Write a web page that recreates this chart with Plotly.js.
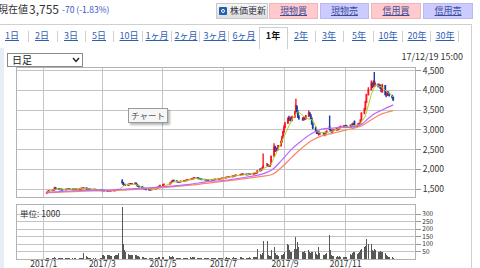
<!DOCTYPE html>
<html><head><meta charset="utf-8">
<script src="https://cdn.plot.ly/plotly-3.0.1.min.js"></script>
<style>
html,body{margin:0;padding:0;background:#fff;}
body{width:480px;height:268px;overflow:hidden;position:relative;font-family:"Noto Sans CJK JP","Noto Sans",sans-serif;color:#333;}
#chart{position:absolute;left:0;top:0;width:480px;height:268px;}
.abs{position:absolute;white-space:nowrap;}
.btn{position:absolute;top:3px;height:14px;border:1px solid #c9c9c9;font-size:9px;line-height:14px;text-align:center;color:#3a4c9a;}
.btn span{text-decoration:underline;}
.pink{background:#ffc9cd;border-color:#eab7bb;}
.lav{background:#cbcbff;border-color:#b9b9ee;}
.tab{position:absolute;top:30px;font-size:9px;line-height:12px;color:#2f5fb3;text-decoration:underline;transform:translateX(-50%);}
.sep{position:absolute;top:31px;width:1px;height:11px;background:#cfcfcf;}
</style></head><body>
<div class="abs" style="left:-1px;top:24px;width:471px;height:260px;border:1px solid #d0d0d0;"></div>
<div class="abs" style="left:0;top:48px;width:4px;height:220px;background:#e7edf5;"></div>
<div id="chart"></div>

<div class="abs" style="left:-2px;top:2px;font-size:10px;line-height:14px;color:#333;">現在値</div>
<div class="abs" style="left:29px;top:1px;font-size:12px;line-height:15px;color:#333;">3,755</div>
<div class="abs" style="left:62px;top:3px;font-size:8.5px;line-height:12px;color:#3556c4;">-70 (-1.83%)</div>

<div class="btn" style="left:216px;width:50px;background:linear-gradient(#f6f6f6,#dedede);color:#334;text-align:left;">
  <div style="position:absolute;left:2px;top:3px;width:8px;height:8px;background:#1f5fb0;border-radius:1px;"></div>
  <div style="position:absolute;left:4px;top:5px;width:2px;height:2px;border:1px solid #fff;border-radius:50%;"></div>
  <span style="position:absolute;left:13px;text-decoration:none;">株価更新</span>
</div>
<div class="btn pink" style="left:269px;width:47px;"><span>現物買</span></div>
<div class="btn lav" style="left:320px;width:47px;"><span>現物売</span></div>
<div class="btn pink" style="left:371px;width:48px;"><span>信用買</span></div>
<div class="btn lav" style="left:423px;width:48px;"><span>信用売</span></div>

<div class="abs" style="left:259px;top:27px;width:27px;height:21px;border:1px solid #cfcfcf;border-bottom:none;background:#fff;"></div>
<div class="tab" style="left:12px;">1日</div>
<div class="sep" style="left:28px;"></div>
<div class="tab" style="left:42px;">2日</div>
<div class="sep" style="left:57px;"></div>
<div class="tab" style="left:71px;">3日</div>
<div class="sep" style="left:85px;"></div>
<div class="tab" style="left:99px;">5日</div>
<div class="sep" style="left:113px;"></div>
<div class="tab" style="left:129px;">10日</div>
<div class="sep" style="left:142px;"></div>
<div class="tab" style="left:157px;">1ヶ月</div>
<div class="sep" style="left:171px;"></div>
<div class="tab" style="left:186px;">2ヶ月</div>
<div class="sep" style="left:199px;"></div>
<div class="tab" style="left:215px;">3ヶ月</div>
<div class="sep" style="left:228px;"></div>
<div class="tab" style="left:244px;">6ヶ月</div>
<div class="tab" style="left:273px;color:#111;text-decoration:none;font-weight:bold;">1年</div>
<div class="tab" style="left:301px;">2年</div>
<div class="sep" style="left:315px;"></div>
<div class="tab" style="left:329px;">3年</div>
<div class="sep" style="left:343px;"></div>
<div class="tab" style="left:359px;">5年</div>
<div class="sep" style="left:373px;"></div>
<div class="tab" style="left:388px;">10年</div>
<div class="sep" style="left:402px;"></div>
<div class="tab" style="left:417px;">20年</div>
<div class="sep" style="left:430px;"></div>
<div class="tab" style="left:445px;">30年</div>
<div class="sep" style="left:458px;"></div>

<div class="abs" style="left:7px;top:53px;width:74px;height:12px;border:1px solid #8a8a8a;background:#fff;">
  <div class="abs" style="left:4px;top:-1px;font-size:10px;line-height:13px;color:#222;">日足</div>
  <svg class="abs" style="left:64px;top:3px;" width="8" height="6"><polyline points="1,1 4,4.5 7,1" fill="none" stroke="#222" stroke-width="1.4"/></svg>
</div>
<div class="abs" style="right:17px;top:51px;font-size:9px;line-height:12px;color:#333;">17/12/19 15:00</div>

<div class="abs" style="left:128px;top:108px;width:38px;height:13px;border:1px solid #9a9a9a;background:#f6f6f6;box-shadow:2px 2px 2px rgba(0,0,0,0.28);font-size:8.5px;line-height:13px;text-align:center;color:#555;">チャート</div>

<script>
// ---- data ----
const holidays = ['2017-01-09','2017-03-20','2017-05-03','2017-05-04','2017-05-05','2017-07-17','2017-08-11','2017-09-18','2017-10-09','2017-11-03','2017-11-23'];
const firstDay = '2017-01-04', lastDay = '2017-12-19';

const open = [
1400,1415,1440,1462,1470,1492,1532,1508,1495,1490,1500,1485,1480,1490,1500,1495,1505,1500,1495,
1490,1495,1500,1505,1500,1510,1520,1525,1530,1510,1500,1490,1495,1490,1485,1490,1480,1475,1480,1475,
1470,1465,1462,1458,1452,1456,1460,1455,1458,1464,1470,1476,1482,1700,1660,1620,1595,1615,1605,1622,1636,1625,
1640,1650,1620,1590,1570,1560,1540,1525,1510,1500,1490,1485,1480,1488,1495,1505,1520,1535,1550,1570,
1590,1610,1630,1650,1670,1700,1720,1705,1690,1685,1680,1690,1700,1705,1715,1720,1730,1740,1750,1760,
1770,1780,1790,1775,1765,1760,1750,1745,1740,1735,1730,1735,1730,1735,1740,1738,1745,1750,1755,1760,1765,1770,
1780,1790,1800,1805,1810,1815,1825,1835,1840,1850,1855,1865,1875,1880,1878,1872,1868,1875,1882,1880,
1890,1895,1905,1915,2000,1970,1995,2040,2090,2110,2080,2085,2140,2340,2560,2480,2520,2500,2600,2700,2810,2950,
3060,3180,3300,3250,3300,3240,3330,3460,3600,3480,3330,3300,3260,3310,3280,3350,3430,3380,3300,3150,
3060,2980,2920,2950,2890,2930,2900,2880,2940,3080,3010,2980,2950,2990,3000,3030,3010,3050,3070,3080,3100,
3090,3110,3090,3120,3100,3150,3210,3090,3120,3160,3140,3260,3430,3530,3700,3890,4020,4180,4100,4230,
4130,4150,4100,4130,4070,3960,4120,3900,3880,3950,3920,3870,3825];
const high = [
1425,1450,1468,1478,1498,1560,1540,1512,1500,1508,1502,1490,1495,1508,1505,1512,1510,1502,1498,
1502,1506,1510,1508,1515,1528,1535,1555,1534,1514,1504,1500,1498,1494,1495,1492,1484,1486,1482,1478,
1474,1470,1466,1462,1460,1465,1466,1462,1468,1475,1480,1488,1500,1750,1680,1630,1625,1620,1630,1645,1640,1648,
1665,1655,1625,1598,1578,1565,1545,1530,1515,1505,1495,1490,1495,1502,1512,1528,1542,1558,1578,1598,
1618,1632,1660,1680,1710,1740,1728,1710,1695,1690,1698,1708,1712,1722,1728,1738,1748,1758,1768,1778,
1788,1800,1792,1780,1770,1765,1755,1750,1745,1740,1742,1740,1742,1748,1746,1752,1758,1762,1768,1772,1778,1790,
1798,1808,1812,1818,1822,1832,1842,1848,1858,1862,1872,1882,1888,1886,1880,1875,1882,1890,1888,1898,
1905,1912,1925,1975,2030,2010,2060,2400,2160,2120,2100,2115,2350,2660,2600,2540,2560,2620,2730,2850,2980,3120,
3200,3320,3360,3340,3320,3360,3480,3790,3620,3500,3380,3320,3340,3330,3380,3490,3450,3400,3310,3180,
3080,3000,2970,2960,2950,2950,2910,2960,2990,3365,3030,2990,3010,3020,3050,3050,3070,3090,3110,3120,3120,
3130,3120,3140,3140,3180,3170,3240,3140,3180,3180,3270,3450,3560,3740,3920,4080,4250,4200,4250,4470,
4200,4180,4170,4150,4100,4170,4130,3950,3990,3980,3940,3890,3850];
const low = [
1395,1410,1435,1455,1465,1488,1505,1490,1482,1486,1480,1472,1476,1486,1490,1492,1495,1488,1484,
1486,1490,1496,1494,1498,1505,1515,1520,1505,1495,1484,1486,1485,1480,1482,1476,1470,1472,1470,1464,
1460,1456,1450,1446,1448,1452,1450,1452,1456,1462,1468,1474,1480,1640,1610,1585,1590,1598,1600,1618,1618,1620,
1635,1612,1585,1562,1552,1535,1518,1505,1492,1482,1478,1470,1476,1485,1495,1500,1515,1530,1545,1565,
1585,1605,1625,1645,1665,1695,1700,1685,1678,1672,1675,1688,1695,1700,1710,1715,1725,1735,1745,1752,
1765,1775,1770,1760,1752,1745,1740,1735,1728,1725,1726,1724,1728,1732,1732,1736,1742,1746,1752,1756,1760,1765,
1775,1785,1795,1800,1805,1810,1820,1830,1835,1845,1850,1860,1870,1870,1865,1860,1862,1870,1872,1875,
1885,1890,1900,1910,1955,1960,1990,2030,2070,2060,2070,2080,2130,2320,2440,2450,2470,2490,2580,2680,2790,2930,
3040,3150,3230,3220,3220,3230,3310,3440,3450,3300,3260,3230,3240,3260,3270,3330,3360,3280,3130,3020,
2960,2900,2900,2860,2870,2880,2840,2870,2920,2990,2960,2930,2940,2975,2990,2990,3000,3040,3050,3070,3070,
3070,3070,3080,3080,3090,3110,3060,3080,3110,3120,3130,3240,3400,3500,3680,3870,4000,4060,4080,4100,
4100,4080,4080,4040,3960,3940,3880,3830,3860,3880,3850,3800,3740];
const close = [
1415,1440,1460,1470,1490,1535,1510,1495,1490,1500,1485,1480,1490,1500,1495,1505,1500,1495,1490,
1495,1500,1505,1500,1510,1520,1525,1530,1510,1500,1490,1495,1490,1485,1490,1480,1475,1480,1475,1470,
1465,1462,1458,1452,1456,1460,1455,1458,1464,1470,1476,1482,1492,1660,1620,1595,1615,1605,1622,1636,1625,1640,
1650,1620,1590,1570,1560,1540,1525,1510,1500,1490,1485,1480,1488,1495,1505,1520,1535,1550,1570,1590,
1610,1625,1650,1670,1700,1720,1705,1690,1685,1680,1690,1700,1705,1715,1720,1730,1740,1750,1760,1770,
1780,1790,1775,1765,1760,1750,1745,1740,1735,1730,1735,1730,1735,1740,1738,1745,1750,1755,1760,1765,1770,1780,
1790,1800,1805,1810,1815,1825,1835,1840,1850,1855,1865,1875,1880,1878,1872,1868,1875,1882,1880,1890,
1895,1905,1915,1960,1970,1995,2030,2090,2110,2080,2085,2100,2320,2560,2480,2520,2500,2600,2700,2810,2950,3060,
3150,3280,3250,3300,3240,3320,3450,3620,3480,3330,3300,3260,3310,3280,3350,3430,3380,3300,3150,3060,
2980,2920,2950,2890,2930,2900,2880,2940,2960,3010,2980,2950,2990,3000,3030,3010,3050,3070,3080,3100,3090,
3110,3090,3120,3100,3150,3130,3090,3120,3160,3140,3250,3420,3520,3700,3880,4020,4180,4100,4150,4130,
4150,4100,4130,4070,3980,4120,3900,3880,3950,3920,3870,3825,3755];
const volume = [
10,8,6,5,7,14,9,5,4,4,5,4,4,5,4,5,4,4,3,
4,4,3,4,5,7,10,37,18,14,6,5,4,4,3,4,3,3,4,5,
25,28,22,30,24,26,20,18,22,28,25,30,40,345,100,60,45,32,28,30,26,24,
30,25,20,18,15,14,12,10,10,9,8,8,7,8,9,10,9,10,12,14,
15,12,18,14,16,20,12,10,8,8,9,10,8,9,8,10,9,12,10,11,
12,14,10,9,8,8,7,7,6,6,7,6,6,7,6,7,8,7,8,7,8,10,
10,12,9,8,9,10,11,9,10,8,12,14,10,9,8,9,10,12,10,13,
14,12,15,70,35,30,40,117,123,30,20,18,60,83,40,28,25,22,30,25,28,35,
45,97,95,60,50,45,70,150,70,115,80,50,45,55,40,60,45,40,50,45,
45,35,30,77,40,30,25,35,40,163,60,30,20,18,15,20,15,18,15,14,12,
14,12,35,30,40,50,45,35,40,45,60,70,80,90,135,100,97,60,55,65,
60,50,45,55,50,50,40,25,20,15,12,14,10];

// moving-average lines, read at sparse dates
const maFastDates = ['2017-01-04','2017-01-13','2017-01-27','2017-02-10','2017-02-24','2017-03-10','2017-03-17','2017-03-24','2017-04-03','2017-04-12','2017-04-21','2017-05-02','2017-05-12','2017-05-22','2017-06-02','2017-06-14','2017-06-28','2017-07-12','2017-07-26','2017-08-04','2017-08-14','2017-08-18','2017-08-25','2017-09-01','2017-09-08','2017-09-14','2017-09-22','2017-09-29','2017-10-05','2017-10-13','2017-10-20','2017-10-27','2017-11-07','2017-11-15','2017-11-21','2017-11-27','2017-12-01','2017-12-07','2017-12-13','2017-12-19'];
const maFast = [1420,1500,1495,1515,1482,1458,1475,1610,1625,1530,1488,1570,1685,1695,1770,1738,1760,1835,1872,1930,2070,2130,2510,2900,3260,3470,3300,3250,2930,2930,2980,3060,3110,3130,3350,3900,4140,4090,3960,3840];
const maShortDates = ['2017-01-04','2017-02-06','2017-03-09','2017-03-28','2017-04-20','2017-05-28','2017-06-13','2017-07-03','2017-07-23','2017-08-09','2017-08-19','2017-08-29','2017-09-08','2017-09-18','2017-09-28','2017-10-08','2017-10-18','2017-10-28','2017-11-07','2017-11-17','2017-11-23','2017-11-29','2017-12-09','2017-12-19'];
const maShort = [1420,1465,1478,1505,1540,1620,1685,1725,1800,1880,1990,2240,2520,2730,2910,3020,3045,3070,3065,3140,3270,3390,3520,3635];
const maLongDates = ['2017-01-04','2017-02-06','2017-03-09','2017-04-28','2017-05-28','2017-06-13','2017-07-03','2017-07-23','2017-08-09','2017-08-19','2017-08-29','2017-09-08','2017-09-18','2017-09-28','2017-10-08','2017-10-18','2017-10-28','2017-11-07','2017-11-17','2017-11-27','2017-12-07','2017-12-19'];
const maLong = [1410,1445,1462,1530,1600,1645,1700,1765,1825,1870,2060,2310,2540,2730,2850,2905,2970,3030,3100,3260,3400,3490];

const gridDates = ['2017-01-01','2017-03-01','2017-05-01','2017-07-01','2017-09-01','2017-11-01'];
const gridLabels = ['2017/1','2017/3','2017/5','2017/7','2017/9','2017/11'];
const priceTicks = [1500,2000,2500,3000,3500,4000,4500];
const priceTickText = ['1,500','2,000','2,500','3,000','3,500','4,000','4,500'];
const volTicks = [50,100,150,200,250,300];
const volTickText = ['50','100','150','200','250','300'];

// trading calendar
function tradingDays(a, b, hol){
  const out = []; const d = new Date(a + 'T00:00:00Z'); const end = new Date(b + 'T00:00:00Z');
  while (d <= end){
    const s = d.toISOString().slice(0,10); const w = d.getUTCDay();
    if (w !== 0 && w !== 6 && hol.indexOf(s) < 0) out.push(s);
    d.setUTCDate(d.getUTCDate() + 1);
  }
  return out;
}
const dates = tradingDays(firstDay, lastDay, holidays);
if (dates.length !== close.length) console.error('length mismatch', dates.length, close.length);

const xRange = ['2016-12-05', '2018-01-10'];
const gridC = '#c4c4c4', lineC = '#b2b2b2';
const fnt = '"Noto Sans CJK JP", "Noto Sans", sans-serif';

const traces = [
  {type:'scatter', mode:'lines', x:maFastDates, y:maFast, xaxis:'x', yaxis:'y',
   line:{color:'#a6d12a', width:1}, hoverinfo:'skip'},
  {type:'candlestick', x:dates, open:open, high:high, low:low, close:close, xaxis:'x', yaxis:'y',
   increasing:{line:{color:'#ff1420', width:1.4}, fillcolor:'#ff1420'},
   decreasing:{line:{color:'#1c3aa6', width:1.4}, fillcolor:'#1c3aa6'},
   whiskerwidth:0, hoverinfo:'skip'},
  {type:'scatter', mode:'lines', x:maLongDates, y:maLong, xaxis:'x', yaxis:'y',
   line:{color:'#ff8462', width:1.2, shape:'spline', smoothing:1}, hoverinfo:'skip'},
  {type:'scatter', mode:'lines', x:maShortDates, y:maShort, xaxis:'x', yaxis:'y',
   line:{color:'#b86cff', width:1.2, shape:'spline', smoothing:1}, hoverinfo:'skip'},
  {type:'bar', x:dates, y:volume, xaxis:'x2', yaxis:'y2', width:86400000,
   marker:{color:'#585858', line:{width:0}}, hoverinfo:'skip'}
];

const xBase = {type:'date', domain:[17/480, 415/480], range:xRange, tickvals:gridDates, ticktext:gridLabels,
  showgrid:true, gridcolor:gridC, gridwidth:1, showline:true, mirror:true, linecolor:lineC, linewidth:1,
  ticks:'', zeroline:false, fixedrange:true, tickfont:{family:fnt, size:8.5, color:'#333'}};

const layout = {
  width:480, height:268, margin:{l:0, r:0, t:0, b:0},
  paper_bgcolor:'rgba(0,0,0,0)', plot_bgcolor:'#ffffff',
  showlegend:false, dragmode:false, bargap:0,
  font:{family:fnt, size:9, color:'#333'},
  xaxis:Object.assign({}, xBase, {anchor:'y', showticklabels:false, rangeslider:{visible:false}}),
  xaxis2:Object.assign({}, xBase, {anchor:'y2', showticklabels:true, ticklabelstandoff:-3}),
  yaxis:{domain:[71/268, 200/268], range:[1300, 4570], side:'right', anchor:'x',
    tickvals:priceTicks, ticktext:priceTickText, ticks:'outside', ticklen:5, tickcolor:'#999',
    showgrid:true, gridcolor:gridC, showline:true, mirror:true, linecolor:lineC, zeroline:false,
    fixedrange:true, tickfont:{family:fnt, size:8.5, color:'#333'}},
  yaxis2:{domain:[9/268, 63/268], range:[0, 360], side:'right', anchor:'x2',
    tickvals:volTicks, ticktext:volTickText, ticks:'outside', ticklen:5, tickcolor:'#999',
    showgrid:true, gridcolor:gridC, showline:true, mirror:true, linecolor:lineC, zeroline:false,
    fixedrange:true, tickfont:{family:fnt, size:6.5, color:'#333'}},
  annotations:[{xref:'paper', yref:'paper', x:18/480, y:(268-205)/268, xanchor:'left', yanchor:'top',
    text:'単位: 1000', showarrow:false, font:{family:fnt, size:8.5, color:'#333'}}]
};

Plotly.newPlot('chart', traces, layout, {staticPlot:true, displayModeBar:false});
</script>
</body></html>
